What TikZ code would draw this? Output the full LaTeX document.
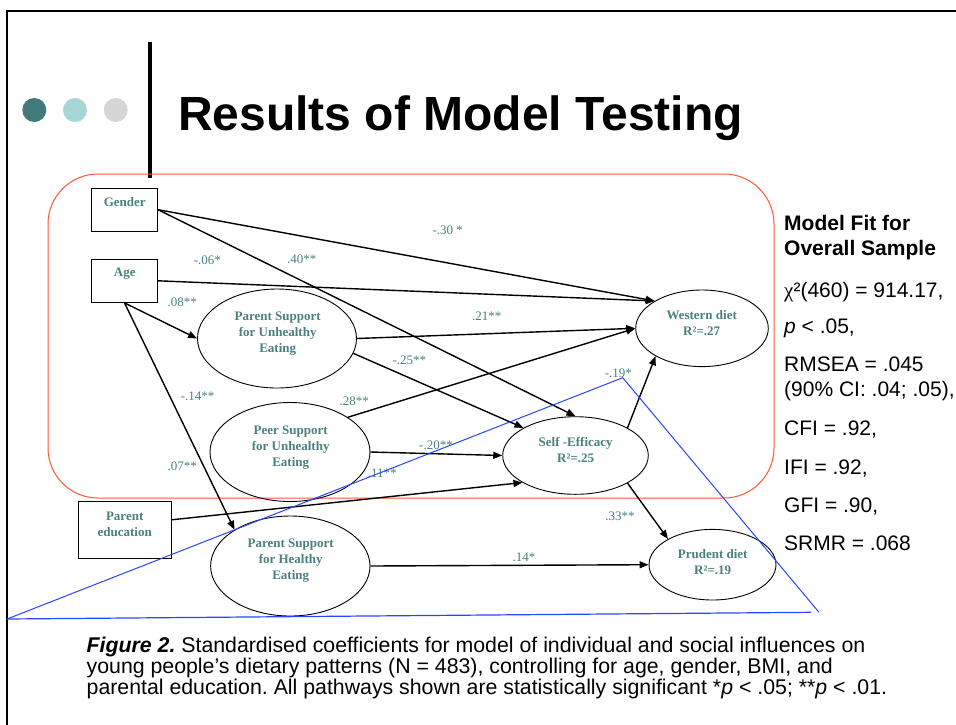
\documentclass[tikz,border=0pt]{standalone}
\usepackage{fontspec}
\setmainfont{Liberation Serif}
\newfontfamily\arial{Liberation Sans}
\usetikzlibrary{shapes.geometric,arrows.meta}
\definecolor{coefteal}{RGB}{75,128,128}
\definecolor{dotdark}{RGB}{64,122,122}
\definecolor{dotlight}{RGB}{168,213,213}
\definecolor{dotgray}{RGB}{214,214,214}
\definecolor{framered}{RGB}{255,85,55}
\definecolor{triblue}{RGB}{40,70,255}
\frenchspacing
\begin{document}
\begin{tikzpicture}[x=1pt,y=-1pt,
  ell/.style={ellipse,draw,line width=0.9pt,inner sep=0pt},
  varbox/.style={rectangle,draw,line width=1.2pt,inner sep=0pt},
  vlabel/.style={text=coefteal,font=\bfseries\fontsize{13}{16}\selectfont,align=center,inner sep=0pt},
  coef/.style={text=coefteal,font=\fontsize{13}{15}\selectfont,inner sep=0pt},
  path arrow/.style={line width=1.4pt,-{Triangle[length=9pt,width=7pt]}},
  fit text/.style={anchor=base west,inner sep=0pt,font=\arial\fontsize{21}{24}\selectfont},
  fit head/.style={anchor=base west,inner sep=0pt,font=\arial\bfseries\fontsize{21}{24}\selectfont},
  caption text/.style={anchor=base west,inner sep=0pt,align=left,font=\arial\fontsize{21.3}{19}\selectfont},
]
\useasboundingbox (0,0) rectangle (956,724);
\fill[white] (0,0) rectangle (956,724);

% slide frame
\draw[line width=2.2pt] (7,740) -- (7,11) -- (970,11);

% bullet dots and title bar
\fill[dotdark]  (34.3,110) circle (12);
\fill[dotlight] (75,110) circle (12);
\fill[dotgray]  (115.7,110) circle (12);
\draw[line width=4pt] (150,42) -- (150,178);
\node[anchor=base west,inner sep=0pt,font=\arial\bfseries\fontsize{48}{50}\selectfont] (title) at (178,130) {Results of Model Testing};

% highlighted region
\draw[framered,line width=1pt,rounded corners=50pt] (48,174) rectangle (774,498);

% observed variables
\node[varbox,minimum width=66pt,minimum height=43pt] (gender) at (124.5,209.7) {};
\node[vlabel] (gendertxt) at (124.7,202.5) {Gender};
\node[varbox,minimum width=66pt,minimum height=43pt] (age) at (124.5,280.8) {};
\node[vlabel] (agetxt) at (124.7,274) {Age};
\node[varbox,minimum width=93pt,minimum height=57pt] (pe) at (124.7,529.8) {};
\node[vlabel] (petxt) at (124.7,524) {Parent\\education};

% latent variables
\node[ell,minimum width=159pt,minimum height=99pt] (psu) at (277,338.5) {};
\node[vlabel] (psutxt) at (277.7,334) {Parent Support\\for Unhealthy\\Eating};
\node[ell,minimum width=160pt,minimum height=99pt] (peer) at (290,452) {};
\node[vlabel] (peertxt) at (290.7,448) {Peer Support\\for Unhealthy\\Eating};
\node[ell,minimum width=159.4pt,minimum height=100pt] (psh) at (290.3,566) {};
\node[vlabel] (pshtxt) at (290.7,561) {Parent Support\\for Healthy\\Eating};
\node[ell,minimum width=132.6pt,minimum height=76.6pt] (wd) at (702,328.3) {};
\node[vlabel] (wdtxt) at (701.7,323) {Western diet\\R²=.27};
\node[ell,minimum width=145.6pt,minimum height=77.6pt] (se) at (575.5,455.5) {};
\node[vlabel] (setxt) at (575.7,450.5) {Self -Efficacy\\R²=.25};
\node[ell,minimum width=127pt,minimum height=70.6pt] (pd) at (712.5,564.7) {};
\node[vlabel] (pdtxt) at (712.7,561.7) {Prudent diet\\R²=.19};

% paths
\draw[path arrow] (gender.east) -- (wd.150);
\draw[path arrow] (age.east) -- (wd.150);
\draw[path arrow] (gender.east) -- (se.north);
\draw[path arrow] (age.south) -- (psu.west);
\draw[path arrow] (age.south) -- (psh.147);
\draw[path arrow] (psu.east) -- (wd.west);
\draw[path arrow] (psu.-11.5) -- (se.152.4);
\draw[path arrow] (peer.31.5) -- (wd.west);
\draw[path arrow] (peer.east) -- (se.west);
\draw[path arrow] (pe.12) -- (se.207.6);
\draw[path arrow] (se.28) -- (wd.211);
\draw[path arrow] (se.-28) -- (pd.150);
\draw[path arrow] (psh.east) -- (pd.west);

% coefficients
\node[coef] (c1) at (447.7,230.7) {-.30 *};
\node[coef] (c2) at (207.3,260) {-.06*};
\node[coef] (c3) at (301.7,259.3) {.40**};
\node[coef] (c4) at (182.3,302.3) {.08**};
\node[coef] (c5) at (486.7,316.7) {.21**};
\node[coef] (c6) at (409.3,360) {-.25**};
\node[coef] (c7) at (197.7,396.7) {-.14**};
\node[coef] (c8) at (354.3,401.7) {.28**};
\node[coef] (c9) at (436,445) {-.20**};
\node[coef] (c10) at (382.3,473.3) {.11**};
\node[coef] (c11) at (182.3,466.7) {.07**};
\node[coef] (c12) at (618.3,373.3) {-.19*};
\node[coef] (c13) at (620,516.7) {.33**};
\node[coef] (c14) at (524,557.3) {.14*};

% blue outline
\draw[triblue,line width=1pt] (7,619) -- (622.7,377.7) -- (819,612.3);
\draw[triblue,line width=1.2pt] (7,619) -- (811,612.3);

% model fit statistics
\node[fit head] (fit1) at (784,230) {Model Fit for};
\node[fit head] (fit2) at (784,255) {Overall Sample};
\node[fit text] (fit3) at (784,297) {{\rmfamily χ}²(460) = 914.17,};
\node[fit text] (fit4) at (784,333) {\textit{p} < .05,};
\node[fit text] (fit5) at (784,371) {RMSEA = .045};
\node[fit text] (fit6) at (784,396) {(90\% CI: .04; .05),};
\node[fit text] (fit7) at (784,435) {CFI = .92,};
\node[fit text] (fit8) at (784,474) {IFI = .92,};
\node[fit text] (fit9) at (784,512) {GFI = .90,};
\node[fit text] (fit10) at (784,550) {SRMR = .068};

% caption (anchored on the baseline of its last line)
\node[caption text] (caption) at (86.5,694) {\textbf{\textit{Figure 2.}} Standardised coefficients for model of individual and social influences on\\young people’s dietary patterns (N = 483), controlling for age, gender, BMI, and\\parental education. All pathways shown are statistically significant *\textit{p} < .05; **\textit{p} < .01.};
\end{tikzpicture}
\end{document}
